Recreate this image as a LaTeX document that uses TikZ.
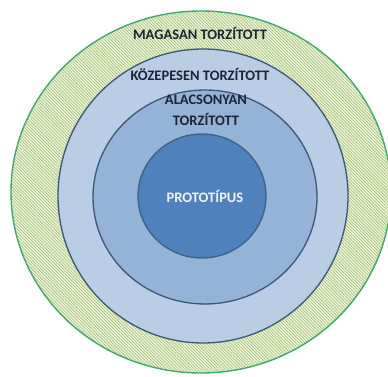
\documentclass[tikz,border=0pt]{standalone}
\usepackage{fontspec}
\setmainfont{Carlito}
\usetikzlibrary{patterns.meta}
\definecolor{ringfill}{HTML}{F2F6E2}
\definecolor{hatch}{HTML}{A6C476}
\definecolor{ringedge}{HTML}{3FAA6C}
\definecolor{midfill}{HTML}{B9CDE5}
\definecolor{innfill}{HTML}{95B3D7}
\definecolor{corefill}{HTML}{4F81BD}
\definecolor{edge}{HTML}{3B5875}
\definecolor{labeltext}{HTML}{1B2635}
\tikzset{
  zone/.style={draw=edge, line width=1.3pt},
  label/.style={font=\bfseries\fontsize{14.5}{15}\selectfont, text=labeltext, inner sep=0pt, align=center},
}
\begin{document}
\begin{tikzpicture}[x=1pt,y=-1pt]
\useasboundingbox (0,0) rectangle (388,377);
\clip (0,0) rectangle (388,377);
% outer ring: highly distorted
\fill[ringfill] (201,192) ellipse [x radius=190, y radius=181];
\fill[pattern={Lines[angle=-45, distance=2.2pt, line width=0.75pt]}, pattern color=hatch]
  (201,192) ellipse [x radius=190, y radius=181];
\draw[ringedge, line width=1.4pt] (201,192) ellipse [x radius=190, y radius=181];
% middle ring
\draw[zone, fill=midfill] (203,196) ellipse [x radius=145, y radius=147];
% inner ring
\draw[zone, fill=innfill] (205,197) ellipse [x radius=112, y radius=107];
% core
\draw[zone, draw=edge!80!corefill, fill=corefill] (202,196) ellipse [x radius=64, y radius=62];
% labels
\node[label] (high) at (200,33) {MAGASAN TORZÍTOTT};
\node[label] (mid) at (200,74) {KÖZEPESEN TORZÍTOTT};
\node[label] (low1) at (206,100) {ALACSONYAN};
\node[label] (low2) at (206,119) {TORZÍTOTT};
\node[label, text=white!92!corefill] (proto) at (205,196) {PROTOTÍPUS};
\end{tikzpicture}
\end{document}
